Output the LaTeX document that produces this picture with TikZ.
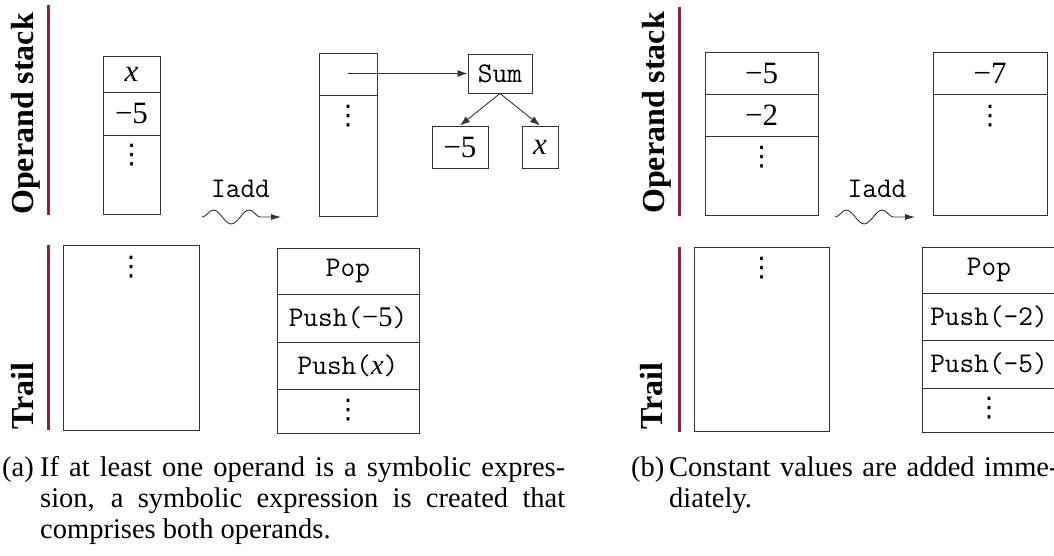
\documentclass[tikz,border=0pt]{standalone}
\usepackage{fontspec}
\setmainfont{Liberation Serif}
\newfontfamily\symfont{DejaVu Sans}
\usetikzlibrary{arrows.meta,decorations.pathmorphing}

\definecolor{barred}{RGB}{138,36,56}
\definecolor{edge}{gray}{0.2}

\newcommand{\valfont}{\fontsize{31}{34}\selectfont}
\newcommand{\codefont}{\fontsize{28.5}{32}\selectfont\ttfamily}
\newcommand{\capfont}{\fontsize{28.5}{31}\selectfont}

\tikzset{
  cell/.style={draw=edge, line width=1pt, inner sep=0pt, font=\valfont},
  codecell/.style={cell, font=\codefont},
  dotmark/.style={inner sep=0pt, font=\fontsize{27}{27}\selectfont\symfont},
  sidelabel/.style={rotate=90, anchor=base west, inner sep=0pt,
                    font=\fontsize{32}{32}\selectfont\bfseries},
  sidebar/.style={draw=barred, line width=3pt},
  link/.style={draw=edge, line width=0.9pt, -{Latex[length=10pt,width=7pt]}},
  evolve/.style={draw=edge, line width=0.9pt, -{Latex[length=10pt,width=6pt]},
                 decorate, decoration={snake, amplitude=7pt, segment length=36pt, post length=16pt}},
  opname/.style={inner sep=0pt, anchor=base, font=\codefont},
  captag/.style={inner sep=0pt, anchor=base west, font=\capfont},
  captext/.style={inner sep=0pt, anchor=base west, text width=525pt, font=\capfont},
}

\begin{document}
\begin{tikzpicture}[x=1pt, y=-1pt]
\useasboundingbox (0,0) rectangle (1054,555);

%% ---------- (a) symbolic operand ----------
\node[sidelabel] (osA) at (33,215) {Operand stack};
\draw[sidebar] (48,5) -- (48,215);
\node[sidelabel] (trA) at (33,430) {Trail};
\draw[sidebar] (48,245) -- (48,430);

% operand stack before
\node[cell, minimum width=57pt, minimum height=36pt] (a1) at (131.5,74) {\itshape x};
\node[cell, minimum width=57pt, minimum height=43pt] (a2) at (131.5,113.5) {−5};
\node[cell, minimum width=57pt, minimum height=79pt] (a3) at (131.5,174.5) {};
\node[dotmark] (a3d) at (131.5,155) {⋮};

% instruction
\node[opname] (iaddA) at (240.5,197) {Iadd};
\coordinate (wA0) at (202,217);
\coordinate (wA1) at (281,217);
\draw[evolve] (wA0) -- (wA1);

% operand stack after
\node[cell, minimum width=58pt, minimum height=42pt] (b1) at (348,74) {};
\node[cell, minimum width=58pt, minimum height=121pt] (b2) at (348,155.5) {};
\node[dotmark] (b2d) at (348,116) {⋮};
\coordinate (ptr) at (348,73.5);

% symbolic expression tree
\node[codecell, minimum width=64pt, minimum height=39pt] (sum) at (500,73.5) {Sum};
\node[cell, minimum width=56pt, minimum height=42pt] (m5) at (460,147) {−5};
\node[cell, minimum width=36pt, minimum height=42pt] (xv) at (540,147) {\itshape x};
\draw[link] (ptr) -- (sum.west);
\draw[link] (sum.south) -- (m5.north);
\draw[link] (sum.south) -- (xv.north);

% trail before / after
\node[cell, minimum width=136pt, minimum height=185pt] (ta) at (131,337.5) {};
\node[dotmark] (tad) at (131,267) {⋮};
\node[codecell, minimum width=142pt, minimum height=46pt] (tb1) at (348,271) {Pop};
\node[codecell, minimum width=142pt, minimum height=48pt] (tb2) at (348,318) {Push({\rmfamily −5})};
\node[codecell, minimum width=142pt, minimum height=47pt] (tb3) at (348,365.5) {Push({\rmfamily\itshape x})};
\node[cell, minimum width=142pt, minimum height=44pt] (tb4) at (348,411) {};
\node[dotmark] (tb4d) at (348,410) {⋮};

% caption (a)
\node[captag] (capAtag) at (2,476) {(a)};
\node[captext, align=justify] (capA) at (40,476)
  {If at least one operand is a symbolic expres-\linebreak
   sion, a symbolic expression is created that\linebreak
   comprises both operands.};

%% ---------- (b) constant operands ----------
\node[sidelabel] (osB) at (664,214) {Operand stack};
\draw[sidebar] (679,7) -- (679,216);
\node[sidelabel] (trB) at (662,430) {Trail};
\draw[sidebar] (679,247) -- (679,432);

% operand stack before
\node[cell, minimum width=113pt, minimum height=42pt] (c1) at (761.5,73) {−5};
\node[cell, minimum width=113pt, minimum height=42pt] (c2) at (761.5,115) {−2};
\node[cell, minimum width=113pt, minimum height=79pt] (c3) at (761.5,175.5) {};
\node[dotmark] (c3d) at (761.5,157) {⋮};

% instruction
\node[opname] (iaddB) at (877,197) {Iadd};
\coordinate (wB0) at (835,217);
\coordinate (wB1) at (915,217);
\draw[evolve] (wB0) -- (wB1);

% operand stack after
\node[cell, minimum width=114pt, minimum height=42pt] (d1) at (990,73) {−7};
\node[cell, minimum width=114pt, minimum height=121pt] (d2) at (990,154.5) {};
\node[dotmark] (d2d) at (990,116) {⋮};

% trail before / after
\node[cell, minimum width=135pt, minimum height=184pt] (tc) at (761.5,339) {};
\node[dotmark] (tcd) at (761.5,268) {⋮};
\node[codecell, minimum width=134pt, minimum height=46pt] (td1) at (989,270) {Pop};
\node[codecell, minimum width=134pt, minimum height=47pt] (td2) at (989,316.5) {Push(-2)};
\node[codecell, minimum width=134pt, minimum height=48pt] (td3) at (989,364) {Push(-5)};
\node[cell, minimum width=134pt, minimum height=44pt] (td4) at (989,410) {};
\node[dotmark] (td4d) at (989,408) {⋮};

% caption (b)
\node[captag] (capBtag) at (631,476) {(b)};
\node[captext, align=left] (capB) at (669,476)
  {Constant values are added imme-\\
   diately.};
\end{tikzpicture}
\end{document}
